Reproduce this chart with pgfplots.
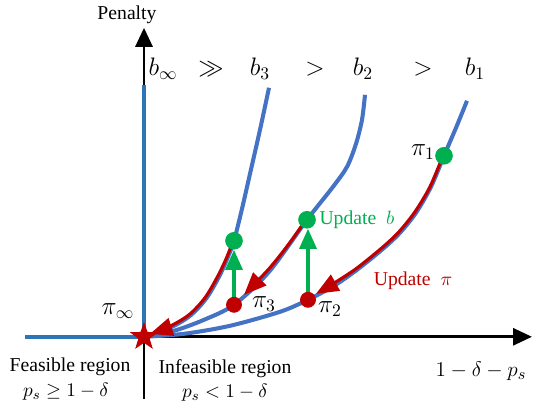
\documentclass[border=0pt]{standalone}
\usepackage[no-math]{fontspec}
\setmainfont{Liberation Serif}
\usepackage{pgfplots}
\pgfplotsset{compat=1.18}
\usetikzlibrary{arrows.meta}
\definecolor{cblue}{HTML}{4472C4}
\definecolor{cblue2}{HTML}{2E75B6}
\definecolor{cred}{HTML}{C00000}
\definecolor{cgreen}{HTML}{00B050}
\pgfdeclareplotmark{fstar}{%
 \pgfpathmoveto{\pgfpointpolar{90}{\pgfplotmarksize}}%
 \pgfpathlineto{\pgfpointpolar{126}{0.4*\pgfplotmarksize}}%
 \pgfpathlineto{\pgfpointpolar{162}{\pgfplotmarksize}}%
 \pgfpathlineto{\pgfpointpolar{198}{0.4*\pgfplotmarksize}}%
 \pgfpathlineto{\pgfpointpolar{234}{\pgfplotmarksize}}%
 \pgfpathlineto{\pgfpointpolar{270}{0.4*\pgfplotmarksize}}%
 \pgfpathlineto{\pgfpointpolar{306}{\pgfplotmarksize}}%
 \pgfpathlineto{\pgfpointpolar{342}{0.4*\pgfplotmarksize}}%
 \pgfpathlineto{\pgfpointpolar{18}{\pgfplotmarksize}}%
 \pgfpathlineto{\pgfpointpolar{54}{0.4*\pgfplotmarksize}}%
 \pgfpathclose
 \pgfusepathqfill}
\begin{document}
\begin{tikzpicture}
\begin{axis}[x=0.02cm, y=0.02cm, xmin=-144, xmax=391, ymin=-72, ymax=333,
  hide axis, clip=false]
% bounding box
\addplot[draw=none, mark=none] coordinates {(-144,-72) (391,333)};
% axes
\addplot[black, line width=1.7pt, -{Triangle[length=0.38cm,width=0.34cm]}] coordinates {(0,0) (388,0)};
\addplot[black, line width=1.7pt, -{Triangle[length=0.38cm,width=0.34cm]}] coordinates {(0,-62) (0,309)};
% b_infinity
\addplot[cblue2, line width=2.3pt] coordinates {(-119,0) (0,0) (0,252)};
% b3
\addplot[cblue, line width=2.3pt, smooth] coordinates {(0,0) (26,9) (46,21) (62,38) (75,60) (84,80) (90,96) (98,128) (106,163) (116,207) (125,249)};
% b2
\addplot[cblue, line width=2.3pt, smooth] coordinates {(0,0) (30,6) (60,17) (90,32) (125,65) (163,117) (189,150) (203,170) (212,193) (218,217) (221,242)};
% b1
\addplot[cblue, line width=2.3pt, smooth] coordinates {(0,0) (40,3) (86,11) (136,25) (164,37) (190,51) (213,67) (239,88) (256,104) (272,124) (287,150) (300,181) (312,209) (323,236)};
% red arrows (update pi)
\addplot[cred, line width=1.8pt, smooth, -{Triangle[length=0.45cm,width=0.36cm]}] coordinates {(299,181) (286,150) (271,125) (255,105) (238,89) (212,68) (189,53) (172,43)};
\addplot[cred, line width=1.8pt, smooth, -{Triangle[length=0.45cm,width=0.36cm]}] coordinates {(162,117) (145,93) (125,68) (100,42)};
\addplot[cred, line width=1.8pt, smooth, -{Triangle[length=0.45cm,width=0.36cm]}] coordinates {(89,96) (83,80) (74,61) (61,39) (45,22) (25,10) (6,3)};
% green arrows (update b)
\addplot[cgreen, line width=1.8pt, -{Triangle[length=0.4cm,width=0.34cm]}] coordinates {(90,32) (90,87)};
\addplot[cgreen, line width=1.8pt, -{Triangle[length=0.4cm,width=0.34cm]}] coordinates {(164,37) (164,108)};
% dots
\addplot[only marks, mark=*, mark size=4.3pt, cred] coordinates {(90,32) (164,37)};
\addplot[only marks, mark=*, mark size=4.8pt, cgreen] coordinates {(90,96) (163,117) (300,181)};
% star
\addplot[only marks, mark=fstar, mark size=8.5pt, cred] coordinates {(0,0)};
% labels
\node[font=\fontsize{11.2}{13}\selectfont] at (axis cs:-17,322) {Penalty};
\node[font=\fontsize{14.5}{16}\selectfont] at (axis cs:19,268) {$b_\infty$};
\node[font=\fontsize{14.5}{16}\selectfont] at (axis cs:67,268) {$\gg$};
\node[font=\fontsize{14.5}{16}\selectfont] at (axis cs:116,268) {$b_3$};
\node[font=\fontsize{14.5}{16}\selectfont] at (axis cs:171,268) {$>$};
\node[font=\fontsize{14.5}{16}\selectfont] at (axis cs:219,268) {$b_2$};
\node[font=\fontsize{14.5}{16}\selectfont] at (axis cs:279,268) {$>$};
\node[font=\fontsize{14.5}{16}\selectfont] at (axis cs:331,268) {$b_1$};
\node[font=\fontsize{14.5}{16}\selectfont] at (axis cs:-26,26) {$\pi_\infty$};
\node[font=\fontsize{14.5}{16}\selectfont] at (axis cs:120,33) {$\pi_3$};
\node[font=\fontsize{14.5}{16}\selectfont] at (axis cs:186,28) {$\pi_2$};
\node[font=\fontsize{14.5}{16}\selectfont] at (axis cs:279,185) {$\pi_1$};
\node[font=\fontsize{11.2}{13}\selectfont, text=cgreen] at (axis cs:213,117) {Update \ $b$};
\node[font=\fontsize{11.2}{13}\selectfont, text=cred] at (axis cs:269,56) {Update \ $\pi$};
\node[font=\fontsize{11.2}{13}\selectfont] at (axis cs:-74,-30) {Feasible region};
\node[font=\fontsize{11}{13}\selectfont] at (axis cs:-78,-55) {$p_s \geq 1-\delta$};
\node[font=\fontsize{11.2}{13}\selectfont] at (axis cs:81,-32) {Infeasible region};
\node[font=\fontsize{11}{13}\selectfont] at (axis cs:81,-56) {$p_s < 1-\delta$};
\node[font=\fontsize{12.5}{14}\selectfont] at (axis cs:337,-34) {$1-\delta-p_s$};
\end{axis}
\end{tikzpicture}
\end{document}
